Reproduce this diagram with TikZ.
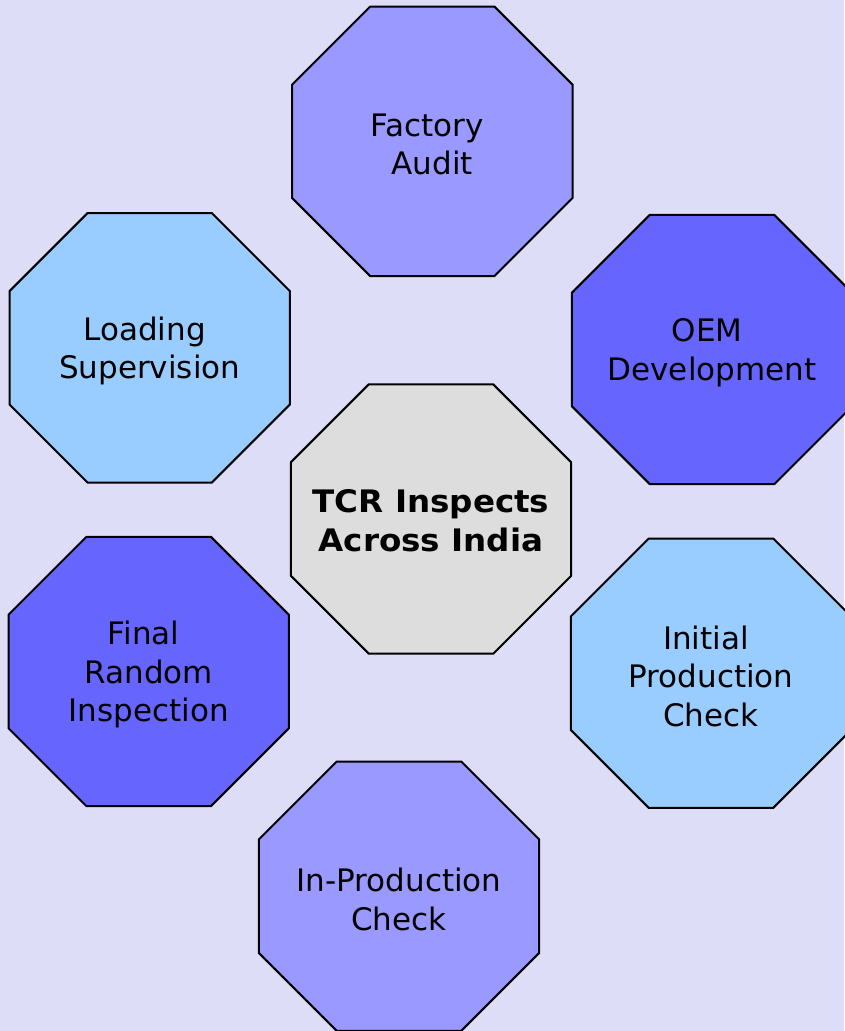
\documentclass[tikz,border=0pt]{standalone}
\usepackage{fontspec}
\setmainfont{DejaVu Sans}
\newfontfamily\widebold{DejaVu Sans Bold}[FakeStretch=1.05]
\definecolor{bgcol}{RGB}{221,221,248}
\definecolor{lilac}{HTML}{9999FF}
\definecolor{deepblue}{HTML}{6666FF}
\definecolor{skyblue}{HTML}{99CCFF}
\definecolor{centergray}{HTML}{DDDDDD}
\tikzset{
  octbox/.style={minimum width=280pt, minimum height=269pt, inner sep=0pt},
  octlabel/.style={inner sep=0pt, align=center, font=\fontsize{31}{38.5}\selectfont},
  octline/.style={draw=black, line width=2pt, line join=miter},
}
\newcommand{\octagon}[2]{%
  \path[octline, fill=#2]
    ([xshift=78pt]#1.north west) -- ([xshift=-78pt]#1.north east)
    -- ([yshift=-78pt]#1.north east) -- ([yshift=78pt]#1.south east)
    -- ([xshift=-78pt]#1.south east) -- ([xshift=78pt]#1.south west)
    -- ([yshift=78pt]#1.south west) -- ([yshift=-78pt]#1.north west) -- cycle;}
\begin{document}
\begin{tikzpicture}[x=1pt, y=-1pt]
  \fill[bgcol] (0,0) rectangle (844,1031);
  \useasboundingbox (0,0) rectangle (844,1031);
  \node[octbox] (fa) at (432.3,141.3) {};
  \node[octbox] (oem) at (712,349.5) {};
  \node[octbox] (load) at (149.7,347.8) {};
  \node[octbox] (tcr) at (431,519) {};
  \node[octbox] (final) at (148.7,671.5) {};
  \node[octbox] (init) at (711,673.2) {};
  \node[octbox] (inprod) at (399,896.2) {};
  \octagon{fa}{lilac}
  \octagon{oem}{deepblue}
  \octagon{load}{skyblue}
  \octagon{tcr}{centergray}
  \octagon{final}{deepblue}
  \octagon{init}{skyblue}
  \octagon{inprod}{lilac}
  \node[octlabel] (fa-t) at ([yshift=-3pt]fa.center) {Factory\hspace*{10pt}\\Audit};
  \node[octlabel] (oem-t) at ([yshift=-3pt]oem.center) {OEM\hspace*{10pt}\\Development};
  \node[octlabel] (load-t) at ([yshift=-3pt]load.center) {Loading\hspace*{10pt}\\Supervision};
  \node[octlabel, font=\fontsize{31}{39.3}\selectfont\widebold] (tcr-t) at ([yshift=-2pt]tcr.center) {TCR Inspects\\Across India};
  \node[octlabel] (final-t) at ([yshift=-3pt]final.center) {Final\hspace*{10pt}\\Random\hspace*{10pt}\\Inspection};
  \node[octlabel] (init-t) at ([yshift=-3pt]init.center) {Initial\hspace*{10pt}\\Production\hspace*{10pt}\\Check};
  \node[octlabel] (inprod-t) at ([yshift=-3pt]inprod.center) {In-Production\\Check};
\end{tikzpicture}
\end{document}
